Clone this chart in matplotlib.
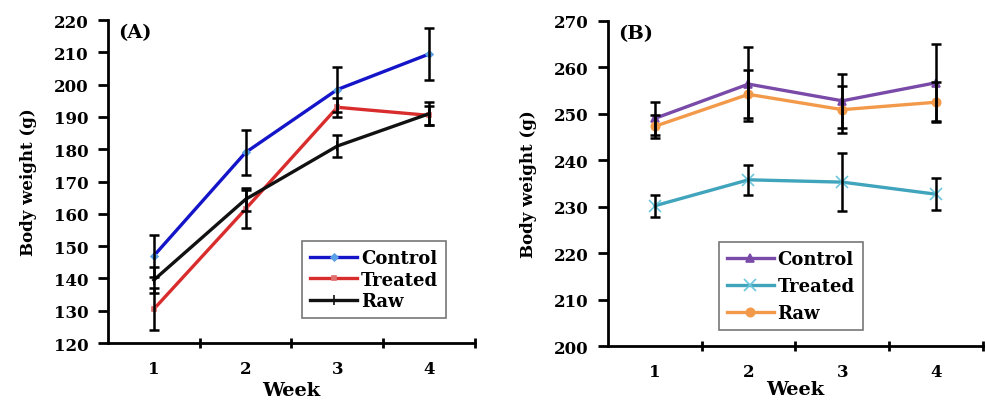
import matplotlib
matplotlib.use("Agg")
import matplotlib.pyplot as plt

plt.rcParams['font.family'] = ['DejaVu Serif']
plt.rcParams['font.weight'] = 'bold'
plt.rcParams['axes.labelweight'] = 'bold'

weeks = [1, 2, 3, 4]

# panel A
a_control = [147, 179, 198.5, 209.5]
a_control_err = [6.5, 7, 7, 8]
a_treated = [130.5, 161.5, 193, 190.5]
a_treated_err = [6.5, 6, 3, 3]
a_raw = [139.5, 164.5, 181, 191]
a_raw_err = [4, 3.5, 3.5, 3.5]

# panel B
b_control = [249, 256.4, 252.8, 256.7]
b_control_err = [3.5, 8, 5.8, 8.3]
b_treated = [230.2, 235.8, 235.3, 232.7]
b_treated_err = [2.3, 3.2, 6.2, 3.5]
b_raw = [247.3, 254.2, 250.9, 252.5]
b_raw_err = [2.5, 5.2, 5, 4.3]

fig = plt.figure(figsize=(9.85, 4.06), dpi=100)
axA = fig.add_axes([0.1096, 0.1527, 0.3726, 0.7953])
axB = fig.add_axes([0.617, 0.145, 0.381, 0.801])


def draw(ax, series, ylim, yticks, label, xpad):
    for vals, errs, color, marker, ms, mfc, name in series:
        ax.errorbar(weeks, vals, yerr=errs, fmt='none', ecolor='black',
                    elinewidth=1.8, capsize=3.8, capthick=1.8, zorder=3)
        ax.plot(weeks, vals, color=color, lw=2.4, marker=marker, ms=ms,
                mfc=mfc, mec=mfc, mew=1.2, label=name, zorder=2)
    ax.set_xlim(0.5, 4.5)
    ax.set_ylim(*ylim)
    ax.set_yticks(yticks)
    ax.set_xticks(weeks)
    ax.set_xticks([1.5, 2.5, 3.5, 4.5], minor=True)
    ax.tick_params(axis='x', which='major', length=0, pad=12, labelsize=12)
    ax.tick_params(axis='x', which='minor', length=7, width=2, direction='inout')
    ax.tick_params(axis='y', length=7, width=2, pad=7, labelsize=12)
    for s in ['top', 'right']:
        ax.spines[s].set_visible(False)
    for s in ['left', 'bottom']:
        ax.spines[s].set_linewidth(2)
    ax.set_xlabel('Week', fontsize=14, labelpad=xpad)
    ax.set_ylabel('Body weight (g)', fontsize=12, labelpad=12)
    ax.text(0.027, 0.99, label, transform=ax.transAxes, fontsize=14,
            va='top', ha='left')


draw(axA, [
    (a_control, a_control_err, '#1414c8', 'D', 3.5, '#5aa0e6', 'Control'),
    (a_treated, a_treated_err, '#d92c2c', 's', 3.5, '#e0706e', 'Treated'),
    (a_raw, a_raw_err, '#111111', '|', 7, '#111111', 'Raw'),
], (120, 220), range(120, 221, 10), '(A)', 3)

draw(axB, [
    (b_control, b_control_err, '#7a4aa8', '^', 6, '#7a4aa8', 'Control'),
    (b_treated, b_treated_err, '#3fa4bc', 'x', 8, '#6cc6dc', 'Treated'),
    (b_raw, b_raw_err, '#f39a4a', 'o', 6, '#f39a4a', 'Raw'),
], (200, 270), range(200, 271, 10), '(B)', 0)

for ax, anchor, spacing in [(axA, (0.529, 0.316), 0.2), (axB, (0.296, 0.32), 0.5)]:
    leg = ax.legend(loc='upper left', bbox_to_anchor=anchor, fancybox=False,
                    fontsize=13, handlelength=2.6, handletextpad=0.2,
                    borderpad=0.45, labelspacing=spacing, borderaxespad=0)
    leg.get_frame().set_edgecolor('#555555')
    leg.get_frame().set_linewidth(1.2)

fig.savefig('out.png', dpi=100)
